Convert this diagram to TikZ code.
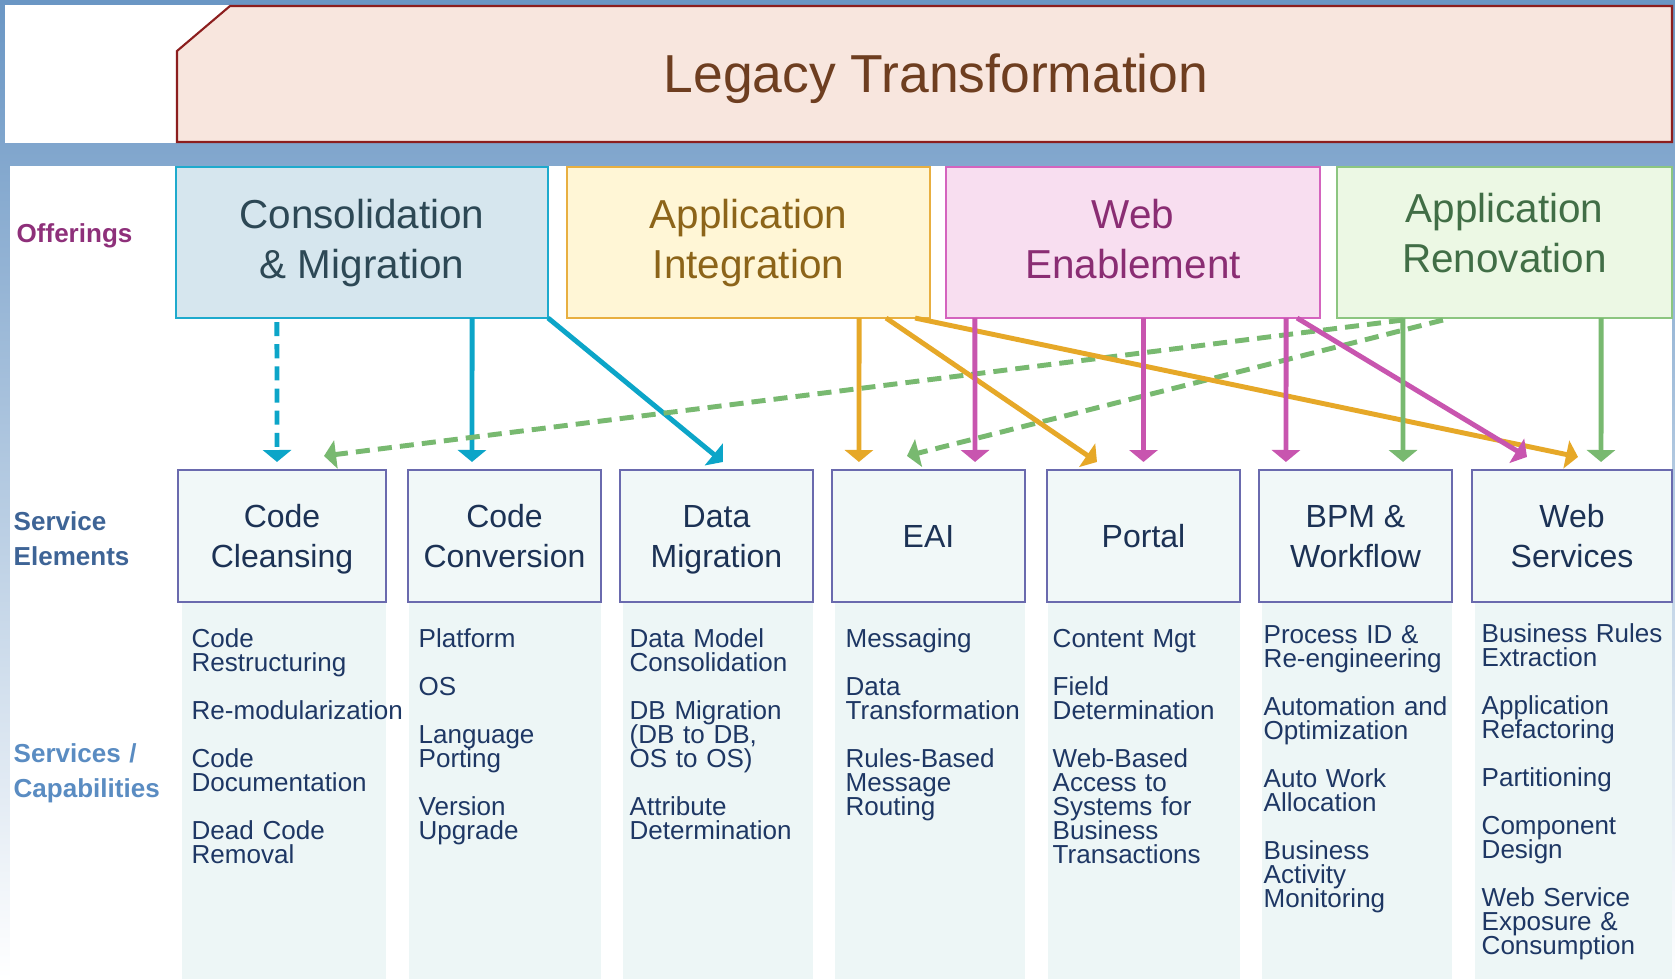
\documentclass[tikz,border=0pt]{standalone}
\usepackage{fontspec}
\setmainfont{Liberation Sans}
\usetikzlibrary{positioning, arrows.meta, calc}
\definecolor{framebg}{RGB}{106,150,196}
\definecolor{legacyfill}{RGB}{248,230,222}
\definecolor{legacyline}{RGB}{140,30,30}
\definecolor{legacytext}{RGB}{110,62,32}
\definecolor{cmfill}{RGB}{214,230,238}
\definecolor{cmline}{RGB}{30,170,205}
\definecolor{cmtext}{RGB}{45,72,85}
\definecolor{cmarrow}{RGB}{12,165,200}
\definecolor{aifill}{RGB}{255,246,214}
\definecolor{ailine}{RGB}{232,175,64}
\definecolor{aitext}{RGB}{140,100,25}
\definecolor{aiarrow}{RGB}{230,168,40}
\definecolor{wefill}{RGB}{248,222,240}
\definecolor{weline}{RGB}{212,100,190}
\definecolor{wetext}{RGB}{138,45,115}
\definecolor{wearrow}{RGB}{200,85,175}
\definecolor{arfill}{RGB}{236,248,228}
\definecolor{arline}{RGB}{140,198,128}
\definecolor{artext}{RGB}{65,110,70}
\definecolor{ararrow}{RGB}{120,185,112}
\definecolor{elemline}{RGB}{106,106,174}
\definecolor{elembg}{RGB}{241,248,248}
\definecolor{elemtext}{RGB}{28,50,85}
\definecolor{colbg}{RGB}{237,246,246}
\definecolor{capblue}{RGB}{30,55,100}
\definecolor{offerlbl}{RGB}{142,48,122}
\definecolor{elemlbl}{RGB}{62,100,150}
\definecolor{caplbl}{RGB}{90,140,194}
\newcommand\legacyfont{\fontsize{15.2}{18}\selectfont}
\newcommand\offerfont{\fontsize{11.5}{14.2}\selectfont}
\newcommand\elemfont{\fontsize{9.1}{11.4}\selectfont}
\newcommand\capfont{\fontsize{7.4}{6.83}\selectfont\lineskiplimit=-5pt}
\newcommand\sidefont{\bfseries\fontsize{7.4}{10}\selectfont}
% struts keeping two-line labels on the same baselines
\newcommand\ostrut{\rule[-2.6pt]{0pt}{11.2pt}}
\newcommand\estrut{\rule[-2pt]{0pt}{10.3pt}}
\tikzset{
  offerbox/.style={draw, line width=0.6pt, outer sep=0, inner sep=0,
    minimum height=1.51cm, align=center, font=\offerfont},
  elembox/.style={draw=elemline, fill=elembg, line width=0.6pt, outer sep=0,
    inner sep=0, minimum height=1.32cm, minimum width=1.93cm, align=center,
    font=\elemfont, text=elemtext},
  captext/.style={anchor=base west, inner sep=0, text width=2.6cm, align=left,
    font=\capfont, text=capblue},
  sidelabel/.style={anchor=base west, inner sep=0, text width=2cm, align=left,
    font=\sidefont},
  arrowline/.style={line width=1.4pt, -{Triangle[width=8pt,length=3.4pt]}},
  dashline/.style={arrowline, dash pattern=on 4pt off 2.3pt}
}

\begin{document}
\begin{tikzpicture}[x=0.01cm, y=-0.01cm]
\useasboundingbox (0,0) rectangle (1675,979);
\coordinate (bottom) at (0,979);

% frame
\shade[top color=framebg, middle color=framebg!55, bottom color=white] (0,0) rectangle (1675,979);
\fill[white] (5,5) rectangle (1672,143);
\fill[white] (10,166) rectangle (1672,979);

\draw[fill=legacyfill, draw=legacyline, line width=0.6pt] (177,51) -- (230,6) -- (1672,6) -- (1672,142) -- (177,142) -- cycle;
\node[anchor=base, font=\legacyfont, text=legacytext] (legacy) at (936,93) {Legacy Transformation};


% offerings
\node[offerbox, fill=cmfill, draw=cmline, text=cmtext, minimum width=3.72cm] (cm) at (362,242.5) {\ostrut Consolidation\\\& Migration\ostrut};
\node[offerbox, fill=aifill, draw=ailine, text=aitext, minimum width=3.63cm] (ai) at (748.5,242.5) {\ostrut Application\\Integration\ostrut};
\node[offerbox, fill=wefill, draw=weline, text=wetext, minimum width=3.74cm] (we) at (1133,242.5) {\ostrut Web\\Enablement\ostrut};
\node[offerbox, fill=arfill, draw=arline, text=artext, minimum width=3.35cm] (ar) at (1504.5,242.5) {\ostrut Application\\Renovation\rule[-6pt]{0pt}{6pt}};


% service elements
\node[elembox, minimum width=2.08cm] (cc) at (282,536) {\estrut Code\\Cleansing\estrut};
\node[elembox] (cv) at (504.5,536) {\estrut Code\\Conversion\estrut};
\node[elembox] (dm) at (716.5,536) {\estrut Data\\Migration\estrut};
\node[elembox] (eai) at (928.5,536) {EAI};
\node[elembox] (portal) at (1143.5,536) {Portal};
\node[elembox] (bpm) at (1355.5,536) {\estrut BPM \&\\Workflow\estrut};
\node[elembox, minimum width=2.00cm] (ws) at (1572,536) {\estrut Web\\Services\estrut};

\fill[colbg] ([xshift=0.04cm, yshift=-0.01cm]cc.south west) rectangle (cc.south east |- bottom);
\fill[colbg] ([xshift=0.01cm, yshift=-0.01cm]cv.south west) rectangle (cv.south east |- bottom);
\fill[colbg] ([xshift=0.03cm, yshift=-0.01cm]dm.south west) rectangle (dm.south east |- bottom);
\fill[colbg] ([xshift=0.03cm, yshift=-0.01cm]eai.south west) rectangle (eai.south east |- bottom);
\fill[colbg] ([xshift=0.01cm, yshift=-0.01cm]portal.south west) rectangle (portal.south east |- bottom);
\fill[colbg] ([xshift=0.03cm, yshift=-0.01cm]bpm.south west) rectangle (bpm.south east |- bottom);
\fill[colbg] ([xshift=0.03cm, yshift=-0.01cm]ws.south west) rectangle (ws.south east |- bottom);


% services / capabilities
\node[captext] (cctext) at (191,647) {Code\\Restructuring\\[6.83pt]Re-modularization\\[6.83pt]Code\\Documentation\\[6.83pt]Dead Code\\Removal};
\node[captext] (cvtext) at (418,647) {Platform\\[6.83pt]OS\\[6.83pt]Language\\Porting\\[6.83pt]Version\\Upgrade};
\node[captext] (dmtext) at (629,647) {Data Model\\Consolidation\\[6.83pt]DB Migration\\(DB to DB,\\OS to OS)\\[6.83pt]Attribute\\Determination};
\node[captext] (eaitext) at (845,647) {Messaging\\[6.83pt]Data\\Transformation\\[6.83pt]Rules-Based\\Message\\Routing};
\node[captext] (portaltext) at (1052,647) {Content Mgt\\[6.83pt]Field\\Determination\\[6.83pt]Web-Based\\Access to\\Systems for\\Business\\Transactions};
\node[captext] (bpmtext) at (1263,643) {Process ID \&\\Re-engineering\\[6.83pt]Automation and\\Optimization\\[6.83pt]Auto Work\\Allocation\\[6.83pt]Business\\Activity\\Monitoring};
\node[captext] (wstext) at (1481,642) {Business Rules\\Extraction\\[6.83pt]Application\\Refactoring\\[6.83pt]Partitioning\\[6.83pt]Component\\Design\\[6.83pt]Web Service\\Exposure \&\\Consumption};


\node[sidelabel, text=offerlbl] (offerings) at (16,243) {Offerings};
\node[sidelabel, text=elemlbl] (elements) at (13,530) {Service\\Elements};
\node[sidelabel, text=caplbl] (services) at (13,762) {Services /\\Capabilities};


% links
\draw[dashline, cmarrow] ([xshift=-0.85cm, yshift=-0.04cm]cm.south) -- ([xshift=-0.05cm, yshift=0.08cm]cc.north);
\draw[arrowline, cmarrow] ([xshift=1.10cm]cm.south) -- ([xshift=-0.325cm, yshift=0.08cm]cv.north);
\draw[arrowline, cmarrow] (cm.south east) -- ([xshift=0.065cm, yshift=0.08cm]dm.north);

\draw[dashline, ararrow] ([xshift=-1.015cm, yshift=-0.02cm]ar.south) -- ([xshift=0.42cm, yshift=0.14cm]cc.north);
\draw[dashline, ararrow] ([xshift=-0.615cm, yshift=-0.02cm]ar.south) -- ([xshift=-0.215cm, yshift=0.14cm]eai.north);

\draw[arrowline, aiarrow] ([xshift=1.105cm]ai.south) -- ([xshift=-0.695cm, yshift=0.08cm]eai.north);
\draw[arrowline, aiarrow] ([xshift=1.375cm]ai.south) -- ([xshift=-0.465cm, yshift=0.08cm]portal.north);
\draw[arrowline, aiarrow] ([xshift=1.665cm]ai.south) -- ([xshift=0.06cm, yshift=0.13cm]ws.north);

\draw[arrowline, wearrow] ([xshift=-1.58cm]we.south) -- ([xshift=0.465cm, yshift=0.08cm]eai.north);
\draw[arrowline, wearrow] ([xshift=0.105cm]we.south) -- ([yshift=0.08cm]portal.north);
\draw[arrowline, wearrow] ([xshift=1.53cm]we.south) -- ([xshift=-0.695cm, yshift=0.08cm]bpm.north);
\draw[arrowline, wearrow] ([xshift=1.64cm]we.south) -- ([xshift=-0.45cm, yshift=0.13cm]ws.north);

\draw[arrowline, ararrow] ([xshift=-1.015cm]ar.south) -- ([xshift=0.475cm, yshift=0.08cm]bpm.north);
\draw[arrowline, ararrow] ([xshift=0.965cm]ar.south) -- ([xshift=0.29cm, yshift=0.08cm]ws.north);



\end{tikzpicture}
\end{document}
